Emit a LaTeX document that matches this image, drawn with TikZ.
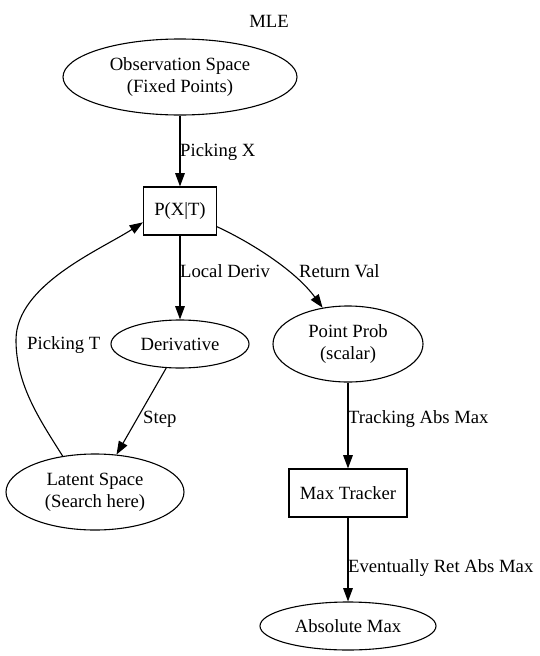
\documentclass[tikz,border=0pt]{standalone}
\usepackage{fontspec}
\setmainfont{Liberation Serif}
\usetikzlibrary{shapes.geometric,arrows.meta}
\begin{document}
\begin{tikzpicture}[x=1pt,y=-1pt,
  every node/.style={font=\fontsize{18.67pt}{22pt}\selectfont},
  ell/.style={draw,ellipse,inner sep=0pt,line width=1.1pt,align=center},
  box/.style={draw,rectangle,inner sep=0pt,line width=1.1pt,minimum height=48pt},
  lbl/.style={anchor=west,inner sep=0pt},
  edge/.style={draw,line width=1.1pt,-{Triangle[length=13.3pt,width=9.6pt]}}]
\useasboundingbox (0,0) rectangle (539,656);
\node (title) at (269,21) {MLE};
\node[ell,minimum width=234pt,minimum height=76pt] (obs) at (180,77) {Observation Space\\(Fixed Points)};
\node[box,minimum width=73pt] (p) at (180,211) {P(X|T)};
\node[ell,minimum width=138pt,minimum height=48pt] (der) at (180,344) {Derivative};
\node[ell,minimum width=150pt,minimum height=76pt] (pp) at (348,344) {Point Prob\\(scalar)};
\node[ell,minimum width=178pt,minimum height=76pt] (lat) at (95,492) {Latent Space\\(Search here)};
\node[box,minimum width=118pt] (mt) at (348,493) {Max Tracker};
\node[ell,minimum width=176pt,minimum height=48pt] (am) at (348,626) {Absolute Max};

\draw[edge] (obs) -- (p);
\draw[edge] (p) -- (der);
\draw[edge] (p.-23) .. controls (250,242) and (295,270) .. (pp.125);
\draw[edge] (der) -- (lat);
\draw[edge] (lat.132) .. controls (40,420) and (16,385) .. (16,340)
  .. controls (16,285) and (100,250) .. (p.197);
\draw[edge] (pp) -- (mt);
\draw[edge] (mt) -- (am);

\node[lbl] (l1) at (180,152) {Picking X};
\node[lbl] (l2) at (180,271) {Local Deriv};
\node[lbl] (l3) at (299,271) {Return Val};
\node[lbl] (l4) at (27,345) {Picking T};
\node[lbl] (l5) at (143,419) {Step};
\node[lbl] (l6) at (348,419) {Tracking Abs Max};
\node[lbl] (l7) at (348,568) {Eventually Ret Abs Max};
\end{tikzpicture}
\end{document}
